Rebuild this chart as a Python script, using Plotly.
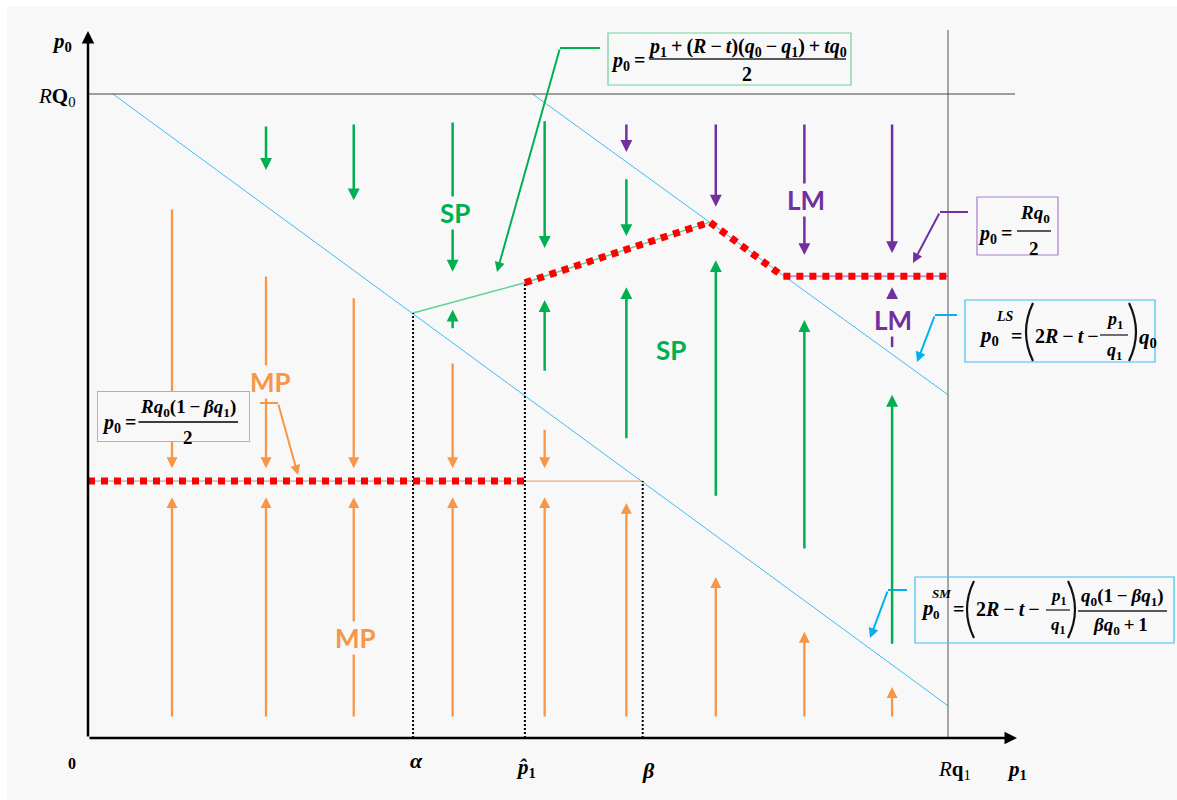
import plotly.graph_objects as go

# ---------------- data (p1 on x axis, p0 on y axis; R*q1 = 100, R*Q0 = 100) -------------
RQ0 = 100.0
Rq1 = 100.0
alpha = 37.8
p1_hat = 50.8
beta = 64.5

# blue boundary lines
sm_x = [2.9, 100.0]
sm_y = [100.0, 5.0]
ls_x = [51.7, 100.0]
ls_y = [100.0, 53.3]

# thin lines under the equilibrium paths
sp_thin_x = [37.8, 50.8, 72.3]
sp_thin_y = [66.0, 70.7, 80.1]
mp_grey_x = [0.0, 50.8]
mp_grey_y = [39.9, 39.9]
mp_thin_x = [50.8, 64.5]
mp_thin_y = [39.9, 39.9]
lm_thin_x = [80.8, 100.0]
lm_thin_y = [71.7, 71.7]

# red dotted equilibrium paths
red_up_x = [50.8, 72.3, 80.8, 100.0]
red_up_y = [70.7, 80.1, 71.7, 71.7]
red_low_x = [0.0, 50.8]
red_low_y = [39.9, 39.9]

# dotted guides
guide_x = [37.8, 50.8, 64.5]
guide_top = [66.0, 70.7, 39.9]

# arrows: column x, tail y, head y
green_x = [20.7, 30.9, 42.4, 53.1, 62.6, 42.4, 53.1, 62.6, 73.0, 83.3, 93.5]
green_tail = [95.2, 95.5, 95.8, 96.0, 87.0, 63.4, 56.8, 46.3, 37.4, 29.2, 14.4]
green_head = [88.2, 83.5, 72.4, 76.1, 77.95, 66.5, 68.0, 70.0, 74.2, 64.9, 53.3]

purple_x = [62.6, 73.0, 83.3, 93.5, 93.5]
purple_tail = [95.5, 95.5, 95.5, 95.5, 68.0]
purple_head = [91.0, 82.5, 75.0, 75.3, 70.0]
purple_stub_x = [93.5, 93.5]
purple_stub_y = [63.4, 60.7]

orange_dn_x = [9.77, 20.7, 30.9, 42.4, 53.1]
orange_dn_tail = [82.3, 71.9, 68.5, 58.4, 48.1]
orange_dn_head = [41.9, 41.9, 41.9, 41.9, 41.9]
orange_up_x = [9.77, 20.7, 30.9, 42.4, 53.1, 62.6, 73.0, 83.3, 93.5]
orange_up_tail = [3.1, 3.1, 3.1, 3.1, 3.1, 3.1, 3.1, 3.1, 3.1]
orange_up_head = [37.4, 37.4, 37.4, 37.4, 37.4, 36.5, 25.0, 16.5, 7.9]

# ---------------- styling ----------------
BG = "#f8f8f8"
GREEN = "#00b050"
PURPLE = "#7030a0"
ORANGE = "#f79646"
BLUE = "#3dbdf2"
CALL_BLUE = "#00b0f0"
RED = "#ff0000"
FORM = "Liberation Serif"
LAB = "Lato"
TS = "\u2009"  # thin space


def X(px):
    return (px - 88) / 8.6


def Y(py):
    return (738 - py) / 6.44


fig = go.Figure()


def line(xs, ys, color, width, dash=None):
    fig.add_trace(go.Scatter(x=xs, y=ys, mode="lines", hoverinfo="skip", showlegend=False,
                             line=dict(color=color, width=width, dash=dash)))


line(sm_x, sm_y, BLUE, 1)
line(ls_x, ls_y, BLUE, 1)
line(sp_thin_x, sp_thin_y, "#5fd393", 1.5)
line(mp_grey_x, mp_grey_y, "#999999", 1)
line(mp_thin_x, mp_thin_y, "#f5a86a", 1.2)
line(lm_thin_x, lm_thin_y, "#b89ad6", 2)
for gx, gt in zip(guide_x, guide_top):
    line([gx, gx], [0, gt], "black", 2, "2px,2px")
line(red_up_x, red_up_y, RED, 7, "7px,6px")
line(red_low_x, red_low_y, RED, 7, "7px,6px")
line(purple_stub_x, purple_stub_y, PURPLE, 2.5)

# reference lines
line([0, X(1015)], [RQ0, RQ0], "#444444", 1)
line([Rq1, Rq1], [0, Y(30)], "#555555", 1)

# callout horizontal segments
line([X(600), X(560)], [Y(48), Y(48)], GREEN, 2)
line([X(968), X(940)], [Y(212), Y(212)], PURPLE, 2)
line([X(957), X(935)], [Y(315), Y(315)], CALL_BLUE, 2)
line([X(907), X(888)], [Y(590), Y(590)], CALL_BLUE, 2)
line([X(260), X(278)], [Y(403), Y(403)], ORANGE, 2)

ann = []


def arrow(x0, y0, x1, y1, color, width=2.5, size=0.95, head=2):
    ann.append(dict(x=x1, y=y1, ax=x0, ay=y0, xref="x", yref="y", axref="x", ayref="y",
                    showarrow=True, arrowhead=head, arrowsize=size, arrowwidth=width,
                    arrowcolor=color, text="", standoff=0, startstandoff=0))


# axes
arrow(0, 0, 0, Y(31), "black", 2.5, 1.0)
arrow(0, 0, X(1017), 0, "black", 2.5, 1.0)

for x, t, h in zip(green_x, green_tail, green_head):
    arrow(x, t, x, h, GREEN)
for x, t, h in zip(purple_x, purple_tail, purple_head):
    arrow(x, t, x, h, PURPLE)
for x, t, h in zip(orange_dn_x, orange_dn_tail, orange_dn_head):
    arrow(x, t, x, h, ORANGE, 2.3)
for x, t, h in zip(orange_up_x, orange_up_tail, orange_up_head):
    arrow(x, t, x, h, ORANGE, 2.3)

# callout diagonals
arrow(X(560), Y(48), X(497), Y(272), GREEN, 2, 1.0)
arrow(X(940), Y(212), X(913), Y(263), PURPLE, 2, 1.0)
arrow(X(935), Y(315), X(917), Y(362), CALL_BLUE, 2, 1.0)
arrow(X(888), Y(590), X(870), Y(638), CALL_BLUE, 2, 1.0)
arrow(X(278), Y(403), X(298), Y(475), ORANGE, 2, 1.0)


def txt(px, py, s, size, color="black", family=FORM, bg=None, xanchor="center"):
    d = dict(x=X(px), y=Y(py), xref="x", yref="y", text=s, showarrow=False,
             font=dict(size=size, color=color, family=family), xanchor=xanchor, yanchor="middle")
    if bg:
        d["bgcolor"] = bg
        d["borderpad"] = 0
    ann.append(d)


def op(s):
    return TS + s + TS


# region labels
txt(455, 213, "<b>SP</b>", 26, GREEN, LAB, BG)
txt(671, 350, "<b>SP</b>", 26, GREEN, LAB, BG)
txt(806, 200, "<b>LM</b>", 26, PURPLE, LAB, BG)
txt(893, 320, "<b>LM</b>", 26, PURPLE, LAB, BG)
txt(270, 382, "<b>MP</b>", 26, ORANGE, LAB, BG)
txt(355, 638, "<b>MP</b>", 26, ORANGE, LAB, BG)

# axis labels
txt(62, 42, "<b><i>p</i><sub>0</sub></b>", 21)
txt(57, 97, "<i>R</i><b>Q</b><sub>0</sub>", 21)
txt(72, 763, "<b>0</b>", 16)
txt(416, 760, "<b><i>α</i></b>", 22)
txt(526, 768, "<b><i>p̂</i><sub>1</sub></b>", 21)
txt(648, 770, "<b><i>β</i></b>", 22)
txt(954, 770, "<i>R</i><b>q</b><sub>1</sub>", 21)
txt(1017, 770, "<b><i>p</i><sub>1</sub></b>", 21)

# orange formula box (opaque)
ann.append(dict(x=X(173.5), y=Y(416.5), xref="x", yref="y", text=" ", showarrow=False,
                width=151, height=49, bgcolor=BG, bordercolor="#f5a060", borderwidth=1, borderpad=0))
txt(121, 423, "<b><i>p</i><sub>0</sub>" + op("=") + "</b>", 20)
txt(188, 408, "<b><i>Rq</i><sub>0</sub>(1" + op("−") + "<i>βq</i><sub>1</sub>)</b>", 19)
arrow(X(137), Y(422), X(238), Y(422), "black", 1.5, 1, 0)
txt(188, 437, "<b>2</b>", 19)

# green formula
txt(630, 61, "<b><i>p</i><sub>0</sub>" + op("=") + "</b>", 20)
txt(747, 47, "<b><i>p</i><sub>1</sub>" + op("+") + "(<i>R</i>" + op("−") + "<i>t</i>)(<i>q</i><sub>0</sub>"
    + op("−") + "<i>q</i><sub>1</sub>)" + op("+") + "<i>tq</i><sub>0</sub></b>", 20)
txt(747, 74, "<b>2</b>", 20)

# purple formula
txt(997, 234, "<b><i>p</i><sub>0</sub>" + op("=") + "</b>", 20)
txt(1035, 214, "<b><i>Rq</i><sub>0</sub></b>", 19)
txt(1034, 248, "<b>2</b>", 19)

# blue LS formula
txt(977, 336, "<b><i>p</i><sub>0</sub></b>", 21, xanchor="left")
txt(994, 316, "<b><i>LS</i></b>", 14, xanchor="left")
txt(1016, 336, "<b>=</b>", 20)
txt(1069, 336, "<b>2<i>R</i>" + op("−") + "<i>t</i>" + op("−") + "</b>", 20)
txt(1114, 320, "<b><i>p</i><sub>1</sub></b>", 18)
txt(1114, 351, "<b><i>q</i><sub>1</sub></b>", 18)
txt(1148, 338, "<b><i>q</i><sub>0</sub></b>", 21)

# blue SM formula
txt(919, 608, "<b><i>p</i></b>", 21, xanchor="left")
txt(930, 593, "<b><i>SM</i></b>", 13, xanchor="left")
txt(931, 614, "<b>0</b>", 13, xanchor="left")
txt(958, 609, "<b>=</b>", 20)
txt(1010, 609, "<b>2<i>R</i>" + op("−") + "<i>t</i>" + op("−") + "</b>", 20)
txt(1058, 597, "<b><i>p</i><sub>1</sub></b>", 17)
txt(1058, 626, "<b><i>q</i><sub>1</sub></b>", 17)
txt(1122, 597, "<b><i>q</i><sub>0</sub>(1" + op("−") + "<i>βq</i><sub>1</sub>)</b>", 19)
txt(1120, 626, "<b><i>βq</i><sub>0</sub>" + op("+") + "1</b>", 19)

# shapes: white page edge, boxes, fraction bars, parentheses
W, H = 1177, 800
shapes = [
    dict(type="rect", xref="paper", yref="paper", x0=0, x1=7 / W, y0=0, y1=1,
         fillcolor="white", line=dict(width=0), layer="below"),
    dict(type="rect", xref="paper", yref="paper", x0=0, x1=1, y0=1 - 6 / H, y1=1,
         fillcolor="white", line=dict(width=0), layer="below"),
]


def rect(x0, y0, x1, y1, color):
    shapes.append(dict(type="rect", xref="x", yref="y", x0=X(x0), x1=X(x1), y0=Y(y0), y1=Y(y1),
                       line=dict(color=color, width=1.2), layer="above"))


def bar(x0, x1, y, w=1.5):
    shapes.append(dict(type="line", xref="x", yref="y", x0=X(x0), x1=X(x1), y0=Y(y), y1=Y(y),
                       line=dict(color="#222222", width=w), layer="above"))


def paren(xe, xm, y0, y1):
    path = f"M {X(xe)},{Y(y0)} Q {X(xm)},{Y((y0 + y1) / 2)} {X(xe)},{Y(y1)}"
    shapes.append(dict(type="path", xref="x", yref="y", path=path,
                       line=dict(color="#111111", width=2.2), layer="above"))


rect(608, 33, 851, 85, "#6fd39b")
bar(649, 846, 59)
rect(977, 197, 1058, 255, "#a57fcf")
bar(1017, 1051, 231)
rect(965, 300, 1155, 362, "#3cc0f2")
bar(1100, 1128, 335, 1.3)
paren(1033, 1019, 303, 361)
paren(1129, 1143, 303, 361)
rect(915, 577, 1174, 643, "#3cc0f2")
bar(1046, 1070, 610, 1.3)
bar(1078, 1167, 611)
paren(974, 960, 581, 638)
paren(1068, 1082, 581, 638)

fig.update_layout(
    width=W, height=H,
    margin=dict(l=0, r=0, t=0, b=0),
    paper_bgcolor=BG, plot_bgcolor="rgba(0,0,0,0)",
    xaxis=dict(range=[X(0), X(W)], visible=False, fixedrange=True),
    yaxis=dict(range=[Y(H), Y(0)], visible=False, fixedrange=True),
    annotations=ann, shapes=shapes, showlegend=False,
)

fig.write_html("out.html", default_width=f"{W}px", default_height=f"{H}px",
               config={"displayModeBar": False},
               post_script="document.documentElement.style.overflow='hidden';"
                           "document.body.style.overflow='hidden';"
                           "document.body.style.margin='0px';")
